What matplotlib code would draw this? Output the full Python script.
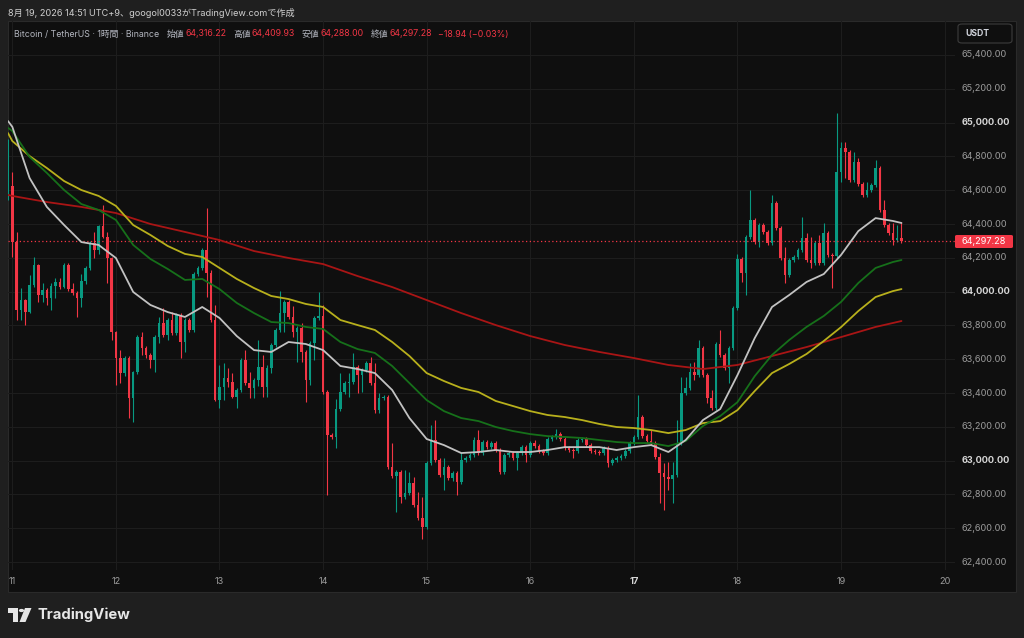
import matplotlib
matplotlib.use('Agg')
import matplotlib.pyplot as plt
from matplotlib.patches import Rectangle, FancyBboxPatch, Polygon, Circle
import numpy as np

# ---------------- data ----------------
# hourly candles; hour 0 = day 11 00:00 (UTC+9); hour -1 is the bar cut by the left edge
first_hour = -1
pre_open = 64554.0
open_overrides = {0: 64625.0}
closes = [64890,
    64293, 63891, 63950, 63879, 64039, 64157, 63980, 64009, 63962, 64033, 64057, 64027,
    64157, 64015, 63992, 63962, 64063, 64140, 64288, 64246, 64388, 64323, 64199, 63761,
    63607, 63518, 63607, 63370, 63524, 63731, 63666, 63625, 63595, 63731, 63814, 63743,
    63832, 63755, 63861, 63702, 63832, 63773, 64104, 64140, 64246, 64110, 63832, 63358,
    63436, 63489, 63465, 63376, 63418, 63595, 63459, 63430, 63477, 63554, 63436, 63548,
    63684, 63773, 63873, 63938, 63850, 63761, 63785, 63643, 63477, 63696, 63844, 63856,
    63406, 63151, 63140, 63305, 63406, 63459, 63465, 63554, 63506, 63536, 63578, 63459,
    63299, 63370, 63376, 62962, 62909, 62932, 62784, 62808, 62867, 62737, 62660, 62607,
    62986, 63122, 63003, 62915, 62962, 62897, 62927, 62873, 63003, 63015, 63033, 63122,
    63045, 63110, 63080, 63104, 63063, 62932, 63033, 63045, 63015, 63045, 63080, 63033,
    63104, 63086, 63057, 63045, 63128, 63140, 63157, 63128, 63075, 63063, 63057, 63122,
    63128, 63092, 63057, 63051, 63045, 63075, 62986, 63003, 63015, 63027, 63057, 63104,
    63140, 63258, 63145, 63116, 63104, 63021, 62927, 62903, 62891, 62915, 63104, 63400,
    63430, 63524, 63506, 63666, 63506, 63370, 63311, 63690, 63625, 63548, 63666, 63903,
    64193, 64110, 64323, 64424, 64293, 64394, 64353, 64288, 64524, 64376, 64199, 64098,
    64187, 64205, 64246, 64317, 64187, 64169, 64288, 64169, 64347, 64217, 64211, 64708,
    64850, 64826, 64660, 64767, 64637, 64572, 64601, 64631, 64731, 64483, 64394, 64347,
    64305, 64316.22, 64297.28]
upper_wick = [12,
    83, 59, 71, 6, 59, 47, 6, 41, 12, 18, 24, 24,
    12, 12, 35, 12, 41, 12, 12, 65, 6, 124, 30, 6,
    6, 47, 12, 12, 6, 12, 30, 12, 12, 12, 35, 89,
    12, 47, 12, 12, 12, 12, 12, 12, 12, 249, 18, 89,
    130, 89, 59, 53, 12, 12, 59, 65, 12, 160, 71, 18,
    12, 12, 130, 12, 12, 65, 12, 30, 12, 12, 12, 142,
    65, 12, 12, 59, 112, 12, 53, 83, 12, 12, 12, 35,
    118, 30, 12, 12, 142, 12, 12, 136, 65, 35, 77, 124,
    12, 89, 118, 12, 53, 12, 12, 12, 47, 12, 12, 18,
    59, 12, 12, 12, 12, 12, 12, 12, 12, 12, 12, 12,
    12, 18, 12, 12, 12, 12, 30, 12, 12, 12, 12, 12,
    12, 12, 12, 12, 12, 12, 12, 12, 12, 12, 12, 12,
    12, 130, 12, 12, 65, 12, 24, 59, 89, 77, 136, 95,
    65, 53, 59, 47, 12, 12, 47, 12, 83, 12, 12, 12,
    30, 12, 12, 177, 12, 12, 12, 12, 47, 12, 12, 65,
    12, 12, 12, 124, 30, 136, 12, 47, 59, 12, 12, 349,
    35, 35, 12, 59, 24, 12, 47, 12, 47, 12, 59, 12,
    59, 77, 93.71]
lower_wick = [12,
    89, 59, 59, 77, 6, 12, 41, 41, 41, 71, 71, 12,
    6, 12, 12, 112, 53, 18, 12, 47, 24, 6, 148, 47,
    160, 59, 18, 118, 142, 12, 41, 18, 47, 71, 35, 12,
    30, 12, 12, 95, 59, 12, 12, 12, 12, 142, 12, 6,
    47, 77, 30, 6, 65, 12, 12, 59, 59, 35, 59, 59,
    30, 12, 12, 112, 12, 30, 177, 59, 130, 30, 100, 12,
    12, 355, 12, 65, 12, 12, 83, 12, 106, 100, 12, 12,
    18, 18, 12, 12, 12, 213, 35, 12, 12, 12, 12, 71,
    12, 12, 12, 12, 89, 12, 18, 77, 12, 12, 12, 12,
    12, 12, 12, 12, 12, 12, 12, 12, 12, 71, 12, 41,
    12, 12, 12, 12, 12, 12, 12, 12, 12, 12, 41, 12,
    12, 12, 12, 12, 12, 12, 24, 12, 12, 12, 12, 12,
    12, 12, 12, 12, 12, 12, 177, 195, 65, 142, 12, 12,
    12, 12, 30, 12, 12, 30, 12, 12, 12, 12, 89, 12,
    12, 53, 130, 12, 12, 30, 12, 12, 12, 12, 12, 47,
    12, 12, 12, 12, 12, 30, 12, 12, 12, 12, 189, 12,
    59, 154, 12, 12, 12, 12, 12, 12, 12, 12, 12, 12,
    30, 12, 9.28]

# moving averages
ma_hours = [-1] + list(range(0, 205, 4)) + [206]
ma_white = [65009, 64975, 64672, 64501, 64394, 64293, 64276, 64199, 63998, 63921, 63879,
            63850, 63909, 63844, 63737, 63654, 63643, 63702, 63690, 63654, 63560,
            63542, 63518, 63418, 63252, 63128, 63092, 63045, 63051, 63063, 63051,
            63051, 63063, 63080, 63080, 63080, 63063, 63080, 63092, 63051, 63122,
            63240, 63305, 63506, 63725, 63909, 63980, 64057, 64104, 64217, 64358,
            64435, 64418, 64406]
ma_green = [64969, 64950, 64797, 64702, 64601, 64518, 64483, 64424, 64276, 64193, 64134,
            64069, 64075, 64015, 63933, 63873, 63820, 63814, 63791, 63779, 63702,
            63660, 63637, 63560, 63459, 63358, 63293, 63252, 63234, 63199, 63175,
            63157, 63145, 63140, 63134, 63122, 63110, 63104, 63104, 63086, 63116,
            63205, 63264, 63346, 63500, 63625, 63714, 63791, 63856, 63939, 64051,
            64140, 64175, 64187]
ma_yellow = [64938, 64891, 64802, 64731, 64654, 64601, 64566, 64507, 64394, 64335, 64270,
             64223, 64205, 64140, 64075, 64021, 63974, 63956, 63927, 63909, 63832,
             63802, 63773, 63702, 63619, 63518, 63471, 63430, 63406, 63353, 63323,
             63293, 63270, 63258, 63240, 63217, 63199, 63193, 63181, 63163, 63181,
             63222, 63234, 63299, 63412, 63518, 63572, 63631, 63708, 63790, 63885,
             63968, 64003, 64015]
red_hours = [-1] + list(range(0, 201, 8)) + [206]
ma_red = [64572, 64566, 64530, 64501, 64465, 64400, 64353, 64305, 64240, 64199, 64163,
          64092, 64027, 63950, 63873, 63802, 63737, 63684, 63643, 63607, 63566,
          63542, 63566, 63619, 63672, 63731, 63791, 63826]

price_ticks = [62400, 62600, 62800, 63000, 63200, 63400, 63600, 63800,
               64000, 64200, 64400, 64600, 64800, 65000, 65200, 65400]
day_labels = ['11', '12', '13', '14', '15', '16', '17', '18', '19', '20']
day_hours = [0, 24, 48, 72, 96, 120, 144, 168, 192, 216]
bold_day = '17'
last_price = 64297.28
header_line1 = "8月 19, 2026 14:51 UTC+9、googol0033がTradingView.comで作成"
symbol_text = "Bitcoin / TetherUS · 1時間 · Binance"
ohlc_labels = ['始値', '高値', '安値', '終値']
ohlc_values = ['64,316.22', '64,409.93', '64,288.00', '64,297.28']
change_text = '−18.94 (−0.03%)'
quote_ccy = 'USDT'
brand = 'TradingView'

# ---------------- style ----------------
UP, DOWN = '#089981', '#F23645'
OUTER_BG, PANEL_BG = '#1f1f1f', '#0f0f0f'
GRID = '#1d1d1d'
TXT, TXT_B = '#9c9c9c', '#d6d6d6'
FAM = ['Inter', 'Noto Sans CJK JP', 'DejaVu Sans']

W, H, DPI = 1024, 638, 100
fig = plt.figure(figsize=(W / DPI, H / DPI), dpi=DPI, facecolor=OUTER_BG)
renderer = fig.canvas.get_renderer()


def fx(px):
    return px / W


def fy(py):
    return 1 - py / H


def measure(s, size, weight='normal'):
    t = fig.text(0, 0, s, fontsize=size, family=FAM, fontweight=weight)
    w = t.get_window_extent(renderer).width
    t.remove()
    return w


def fit(s, target, weight='normal'):
    return 10 * target / measure(s, 10, weight)


# chart panel (behind everything)
fig.patches.append(Rectangle((fx(8), fy(592)), fx(1016) - fx(8), fy(21) - fy(592),
                             transform=fig.transFigure, facecolor=PANEL_BG,
                             edgecolor='#2a2a2a', lw=0.8, zorder=-10))

ax = fig.add_axes([fx(8), fy(570), fx(955) - fx(8), fy(21) - fy(570)])
ax.set_zorder(2)
ax.set_facecolor('none')
ax.set_axis_off()
ax.set_xlim(-1.0, 218.4)
ax.set_ylim(62353, 65601)

for p in price_ticks:
    ax.axhline(p, color=GRID, lw=0.8, zorder=0.5)
for h in day_hours:
    ax.axvline(h, color=GRID, lw=0.8, zorder=0.5)

# candles
hours = np.arange(first_hour, first_hour + len(closes))
c = np.array(closes, float)
o = np.concatenate([[pre_open], c[:-1]])
for hh, v in open_overrides.items():
    o[hh - first_hour] = v
hi = np.maximum(o, c) + np.array(upper_wick, float)
lo = np.minimum(o, c) - np.array(lower_wick, float)
cols = np.where(c >= o, UP, DOWN)
ax.vlines(hours, lo, hi, colors=cols, lw=0.8, zorder=2)
ax.bar(hours, np.maximum(np.abs(c - o), 4), bottom=np.minimum(o, c), width=0.6,
       color=cols, lw=0, zorder=3)

# moving averages
ax.plot(red_hours, ma_red, color='#a91515', lw=1.3, zorder=5, solid_capstyle='round')
ax.plot(ma_hours, ma_yellow, color='#b8b01c', lw=1.3, zorder=5, solid_capstyle='round')
ax.plot(ma_hours, ma_green, color='#16701a', lw=1.3, zorder=5, solid_capstyle='round')
ax.plot(ma_hours, ma_white, color='#c2c2c2', lw=1.3, zorder=6, solid_capstyle='round')

# last price line
ax.axhline(last_price, color=DOWN, lw=0.9, ls=(0, (1, 2)), zorder=4)

# price scale labels
lab_size = fit('65,400.00', 46)
xt = (962 - 8) / (955 - 8)
for p in price_ticks:
    bold = (p % 1000 == 0)
    ax.text(xt, p, f"{p:,.2f}", transform=ax.get_yaxis_transform(), ha='left',
            va='center', fontsize=lab_size, family=FAM,
            fontweight='bold' if bold else 'normal', color=TXT_B if bold else TXT)

# last price tag
fig.patches.append(FancyBboxPatch((fx(955), fy(248)), fx(1013) - fx(955), fy(235) - fy(248),
                                  boxstyle='round,pad=0,rounding_size=0.002',
                                  transform=fig.transFigure, facecolor=DOWN, lw=0, zorder=5))
fig.text(fx(961), fy(241.5), f"{last_price:,.2f}", ha='left', va='center',
         fontsize=lab_size, family=FAM, color='white', zorder=6)

# time labels
yt = (570 - 582) / (570 - 21)
for h, lab in zip(day_hours, day_labels):
    b = lab == bold_day
    ax.text(h, yt, lab, transform=ax.get_xaxis_transform(), ha='center', va='center',
            fontsize=lab_size, family=FAM, fontweight='bold' if b else 'normal',
            color=TXT_B if b else TXT)

# USDT box
fig.patches.append(FancyBboxPatch((fx(958), fy(43)), fx(1012) - fx(958), fy(24) - fy(43),
                                  boxstyle='round,pad=0,rounding_size=0.004',
                                  transform=fig.transFigure, facecolor=PANEL_BG,
                                  edgecolor='#3c3c3c', lw=0.8, zorder=5))
fig.text(fx(965), fy(33.5), quote_ccy, ha='left', va='center',
         fontsize=fit(quote_ccy, 24, 'bold'), family=FAM, fontweight='bold',
         color='#d1d4dc', zorder=6)

# header line 1
fig.text(fx(7.6), fy(12.5), header_line1, ha='left', va='center',
         fontsize=fit(header_line1, 288), family=FAM, color='#cfcfcf')

# header line 2 (legend)
runs = [(symbol_text, '#b2b5be', 0)]
for lab, val in zip(ohlc_labels, ohlc_values):
    runs.append((lab, '#b2b5be', 7))
    runs.append((val, DOWN, 1))
runs.append((change_text, DOWN, 7))
gaps = sum(g for _, _, g in runs)
w10 = sum(measure(s, 10) for s, _, _ in runs)
size2 = 10 * (500 - gaps) / w10
x = 14.5
for s, colr, g in runs:
    x += g
    t = fig.text(fx(x), fy(34), s, ha='left', va='center', fontsize=size2,
                 family=FAM, color=colr, zorder=6)
    x = t.get_window_extent(renderer).x1

# TradingView logo
LOGO = '#e6e6e6'
def P(pts):
    return [(fx(a), fy(b)) for a, b in pts]
fig.patches.append(Polygon(P([(8, 608), (17.5, 608), (17.5, 622), (13, 622), (13, 613), (8, 613)]),
                           closed=True, transform=fig.transFigure, facecolor=LOGO, lw=0))
fig.patches.append(Circle((fx(21.5), fy(610.5)), 2.6 / W, transform=fig.transFigure,
                          facecolor=LOGO, lw=0))
fig.patches.append(Polygon(P([(25, 608), (31.5, 608), (25.5, 622), (19.5, 622)]),
                           closed=True, transform=fig.transFigure, facecolor=LOGO, lw=0))
fig.text(fx(37), fy(615), brand, ha='left', va='center', fontsize=fit(brand, 93, 'bold'),
         family=FAM, fontweight='bold', color=LOGO)

fig.savefig('out.png', dpi=DPI, facecolor=OUTER_BG)
